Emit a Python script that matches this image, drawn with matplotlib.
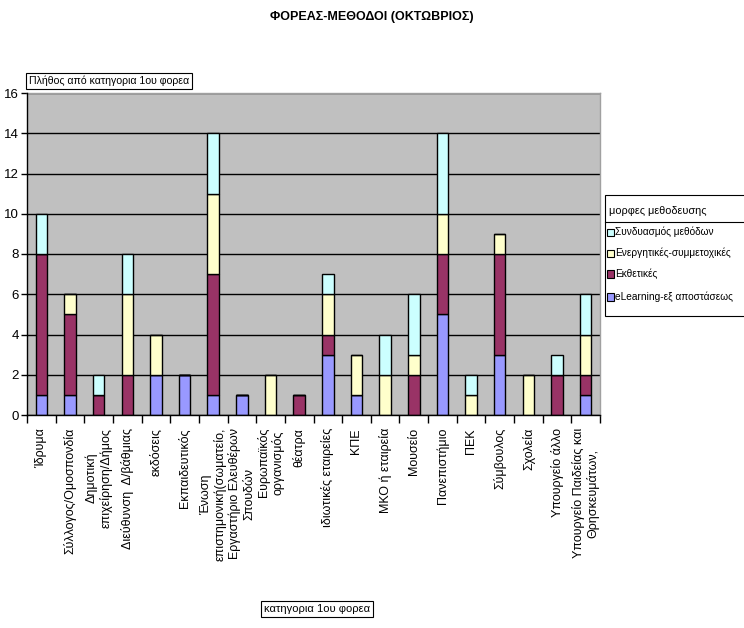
import matplotlib
matplotlib.use("Agg")
import matplotlib.pyplot as plt
from matplotlib.patches import Rectangle
from matplotlib.lines import Line2D
import numpy as np

# Categories of the primary body (κατηγορια 1ου φορεα)
categories = [
    "Ίδρυμα",
    "Σύλλογος/Ομοσπονδία",
    "Δημοτική\nεπιχείρηση/Δήμος",
    "Διεύθυνση  Δ/βάθμιας",
    "εκδόσεις",
    "Εκπαιδευτικός",
    "Ένωση\nεπιστημονική(σωματείο,",
    "Εργαστήριο Ελευθέρων\nΣπουδών",
    "Ευρωπαϊκός\nοργανισμός",
    "θέατρα",
    "ιδιωτικές εταιρείες",
    "ΚΠΕ",
    "ΜΚΟ ή εταιρεία",
    "Μουσείο",
    "Πανεπιστήμιο",
    "ΠΕΚ",
    "Σύμβουλος",
    "Σχολεία",
    "Υπουργείο άλλο",
    "Υπουργείο Παιδείας και\nΘρησκευμάτων,",
]

# Counts per teaching method (stacked bottom to top)
elearning   = [1, 1, 0, 0, 2, 2, 1, 1, 0, 0, 3, 1, 0, 0, 5, 0, 3, 0, 0, 1]
ekthetikes  = [7, 4, 1, 2, 0, 0, 6, 0, 0, 1, 1, 0, 0, 2, 3, 0, 5, 0, 2, 1]
energitikes = [0, 1, 0, 4, 2, 0, 4, 0, 2, 0, 2, 2, 2, 1, 2, 1, 1, 2, 0, 2]
syndyasmos  = [2, 0, 1, 2, 0, 0, 3, 0, 0, 0, 1, 0, 2, 3, 4, 1, 0, 0, 1, 2]

series_names = [
    "eLearning-εξ αποστάσεως",
    "Εκθετικές",
    "Ενεργητικές-συμμετοχικές",
    "Συνδυασμός μεθόδων",
]
series_values = [elearning, ekthetikes, energitikes, syndyasmos]
series_colors = ["#9999FF", "#993366", "#FFFFCC", "#CCFFFF"]

yticks = [0, 2, 4, 6, 8, 10, 12, 14, 16]

title = "ΦΟΡΕΑΣ-ΜΕΘΟΔΟΙ (ΟΚΤΩΒΡΙΟΣ)"
ylabel = "Πλήθος από κατηγορια 1ου φορεα"
xlabel = "κατηγορια 1ου φορεα"
legend_title = "μορφες μεθοδευσης"

FONT = ["Liberation Sans", "DejaVu Sans"]

W, H = 744, 628
fig = plt.figure(figsize=(W / 100, H / 100), dpi=100)
fig.patch.set_facecolor("white")

def fx(px):
    return px / W

def fy(py):
    return 1 - py / H

left, right, top, bottom = 27, 600, 93, 415
ax = fig.add_axes([fx(left), fy(bottom), fx(right - left), fy(top) - fy(bottom)])
ax.set_facecolor("#C0C0C0")

x = np.arange(len(categories))
base = np.zeros(len(categories))
for vals, col in zip(series_values, series_colors):
    v = np.array(vals, dtype=float)
    ax.bar(x, v, width=0.4, bottom=base, color=col, edgecolor="black",
           linewidth=1.0, zorder=3)
    base += v

ax.set_xlim(-0.5, len(categories) - 0.5)
ax.set_ylim(0, 16)
ax.set_yticks(yticks)
ax.set_yticklabels([str(t) for t in yticks], family=FONT, fontsize=9.5)
ax.yaxis.grid(True, color="black", linewidth=1.0, zorder=1)
ax.set_axisbelow(True)
ax.tick_params(axis="y", direction="out", length=4, width=1, pad=2, colors="black")

# category labels centred under each bar, tick marks on the boundaries
ax.set_xticks(x)
ax.set_xticklabels(categories, rotation=90, ha="center", va="top",
                   multialignment="center", family=FONT, fontsize=9)
ax.tick_params(axis="x", which="major", length=0, pad=9.4)
ax.set_xticks(np.arange(-0.5, len(categories)), minor=True)
ax.tick_params(axis="x", which="minor", direction="out", length=6, width=1,
               colors="black")

for s in ["left", "bottom"]:
    ax.spines[s].set_color("black")
    ax.spines[s].set_linewidth(1.0)
for s in ["top", "right"]:
    ax.spines[s].set_color("#A0A0A0")
    ax.spines[s].set_linewidth(1.0)
ax.spines["left"].set_zorder(4)
ax.spines["bottom"].set_zorder(4)

# title
fig.text(fx(372), fy(17), title, ha="center", va="center",
         family=FONT, fontsize=9, fontweight="bold")

# boxed axis titles
box = dict(boxstyle="square,pad=0.25", facecolor="white", edgecolor="black",
           linewidth=0.8)
fig.text(fx(29), fy(81), ylabel, ha="left", va="center", family=FONT,
         fontsize=7.6, bbox=box)
fig.text(fx(317), fy(609), xlabel, ha="center", va="center", family=FONT,
         fontsize=8, bbox=box)

# legend panel (runs off the right edge)
lx0, ly0, ly1 = 605, 195, 316
fig.patches.append(Rectangle((fx(lx0), fy(ly1)), fx(200), fy(ly0) - fy(ly1),
                             transform=fig.transFigure, facecolor="white",
                             edgecolor="black", linewidth=0.8))
fig.text(fx(lx0 + 4), fy(211), legend_title, ha="left", va="center",
         family=FONT, fontsize=7.8)
fig.lines.append(Line2D([fx(lx0), 1.0], [fy(222), fy(222)],
                        transform=fig.transFigure, color="black", linewidth=0.8))
entry_y = [232, 253, 274, 297]
for name, col, yy in zip(series_names[::-1], series_colors[::-1], entry_y):
    s = 7
    fig.patches.append(Rectangle((fx(lx0 + 2), fy(yy + s / 2)), fx(s),
                                 fy(yy - s / 2) - fy(yy + s / 2),
                                 transform=fig.transFigure, facecolor=col,
                                 edgecolor="black", linewidth=0.8))
    fig.text(fx(lx0 + 10), fy(yy), name, ha="left", va="center",
             family=FONT, fontsize=7.3)

fig.savefig("out.png", dpi=100)
